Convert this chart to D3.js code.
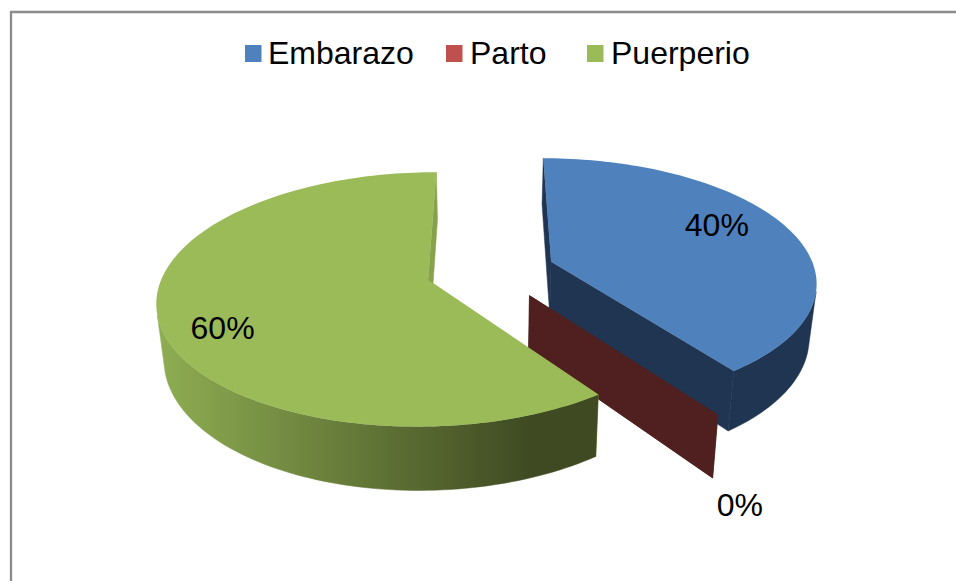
<!DOCTYPE html>
<head>
  <meta charset="utf-8">
  <script src="https://d3js.org/d3.v7.min.js"></script>
  <style>
    html, body { margin: 0; background: #fff; }
    svg { display: block; width: 956px; height: 581px; }
    text { font-family: "Liberation Sans", Arial, sans-serif; font-size: 32px; fill: #000; }
  </style>
</head>

<body>
  <svg></svg>

  <script>
    const width = 956;
    const height = 581;

    // chart data
    const categories = ['Embarazo', 'Parto', 'Puerperio'];
    const values = [40, 0, 60];

    // colours
    const topColors = ['#4f81bd', '#c0504d', '#9bbb59'];
    const sideColors = ['#1f3552', '#4f201f', 'url(#greenSide)'];
    // green start face sits hidden under the top, same colour avoids a dark fringe
    const startFaceColors = ['#1f3552', '#4f201f', '#9bbb59'];
    const endFaceColors = ['#1f3552', '#4f201f', '#86a24a'];

    // legend + label placement
    const legendSwatchX = [245, 446, 587];
    const legendTextX = [268, 470, 611];
    const labelNudge = [[-69, -2], [22, 90], [64, 7.5]];

    // 3d pie camera, fitted by eye against the picture
    const cx = 490.3, cy = 270.8;
    const radiusX = 264, radiusY = 121.5;
    const persp = 0.15;
    const thick = 53.5;
    const converge = 0.023;
    const explode = 0.245;

    const svg = d3.select('svg')
      .attr('viewBox', `0 0 ${width} ${height}`);

    const grad = svg.append('defs').append('linearGradient')
      .attr('id', 'greenSide')
      .attr('gradientUnits', 'userSpaceOnUse')
      .attr('x1', 156).attr('y1', 0)
      .attr('x2', 530).attr('y2', 0);
    grad.append('stop').attr('offset', 0).attr('stop-color', '#8fae52');
    grad.append('stop').attr('offset', 1).attr('stop-color', '#3f4a22');

    // chart frame, only top and left are inside the crop
    svg.append('path')
      .attr('d', `M11,${height}V12H${width}`)
      .attr('fill', 'none')
      .attr('stroke', '#8c8c8c')
      .attr('stroke-width', 2.3);

    const pie = d3.pie().sort(null).value(d => d);
    const arcs = pie(values);

    // world -> screen. x right, y toward viewer, z down (0 top, 1 bottom)
    function project(x, y, z) {
      const w = 1 - persp * y;
      return [
        cx + radiusX * x / w * (1 - converge * z),
        cy + (radiusY * y + thick * z) / w,
      ];
    }

    const line = d3.line();

    arcs.forEach((a, i) => {
      const mid = (a.startAngle + a.endAngle) / 2;
      const ox = explode * Math.sin(mid);
      const oy = -explode * Math.cos(mid);
      const rim = t => [ox + Math.sin(t), oy - Math.cos(t)];

      const n = Math.max(1, Math.ceil((a.endAngle - a.startAngle) * 40));
      const angles = d3.range(n + 1).map(k => a.startAngle + (a.endAngle - a.startAngle) * k / n);

      // signed area of a small piece of wall, tells front from back
      const wallArea = t => {
        const p0 = rim(t), p1 = rim(t + 0.01);
        return d3.polygonArea([
          project(p0[0], p0[1], 0), project(p1[0], p1[1], 0),
          project(p1[0], p1[1], 1), project(p0[0], p0[1], 1),
        ]);
      };
      const frontSign = Math.sign(wallArea(Math.PI));

      const g = svg.append('g').attr('class', 'slice');

      // inner flat faces
      [a.startAngle, a.endAngle].forEach((t, k) => {
        const p = rim(t);
        const color = k === 0 ? startFaceColors[i] : endFaceColors[i];
        g.append('path')
          .attr('d', line([
            project(ox, oy, 0), project(p[0], p[1], 0),
            project(p[0], p[1], 1), project(ox, oy, 1),
          ]) + 'Z')
          .attr('fill', color)
          .attr('stroke', color)
          .attr('stroke-width', 0.5);
      });

      if (n > 1) {
        // outer rim wall, only the part that faces the viewer
        const front = angles.filter(t => Math.sign(wallArea(t)) === frontSign);
        const upper = front.map(t => project(...rim(t), 0));
        const lower = front.map(t => project(...rim(t), 1)).reverse();
        g.append('path')
          .attr('d', line(upper.concat(lower)) + 'Z')
          .attr('fill', sideColors[i])
          .attr('stroke', sideColors[i])
          .attr('stroke-width', 0.5);

        // top face
        g.append('path')
          .attr('d', line([project(ox, oy, 0)].concat(angles.map(t => project(...rim(t), 0)))) + 'Z')
          .attr('fill', topColors[i]);
      }
    });

    // percentage labels
    const total = d3.sum(values);
    svg.selectAll('text.pct')
      .data(arcs)
      .enter().append('text')
      .attr('class', 'pct')
      .attr('text-anchor', 'middle')
      .attr('dy', '0.35em')
      .attr('transform', (a, i) => {
        const mid = (a.startAngle + a.endAngle) / 2;
        const r = 1 + explode;
        const p = project(r * Math.sin(mid), -r * Math.cos(mid), 0);
        return `translate(${p[0] + labelNudge[i][0]},${p[1] + labelNudge[i][1]})`;
      })
      .text(a => `${Math.round(a.value / total * 100)}%`);

    // legend
    const legend = svg.selectAll('g.legend')
      .data(categories)
      .enter().append('g')
      .attr('class', 'legend');
    legend.append('rect')
      .attr('x', (d, i) => legendSwatchX[i])
      .attr('y', 45)
      .attr('width', 16.5)
      .attr('height', 17)
      .attr('fill', (d, i) => topColors[i]);
    legend.append('text')
      .attr('x', (d, i) => legendTextX[i])
      .attr('y', 64)
      .text(d => d);
  </script>
</body>
